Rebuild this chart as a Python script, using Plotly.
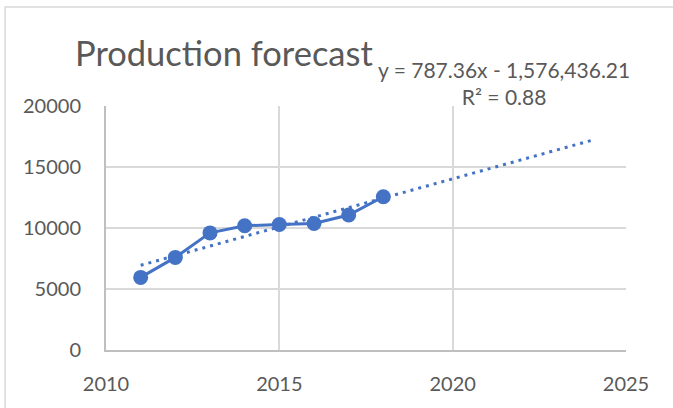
import plotly.graph_objects as go

years = [2011, 2012, 2013, 2014, 2015, 2016, 2017, 2018]
production = [5950, 7590, 9600, 10180, 10290, 10370, 11060, 12560]

trend_slope = 787.36
trend_intercept = -1576436.21
trend_years = [2011, 2024]
trend_values = [trend_slope * x + trend_intercept for x in trend_years]

title_text = "Production forecast"
eq_text = "y = 787.36x - 1,576,436.21<br>R² = 0.88"

x_ticks = [2010, 2015, 2020, 2025]
y_ticks = [0, 5000, 10000, 15000, 20000]

blue = "#4472C4"
txt = "#595959"
font_family = "Lato, Carlito, Calibri, sans-serif"

fig = go.Figure()
fig.add_trace(go.Scatter(
    x=trend_years, y=trend_values, mode="lines",
    line=dict(color=blue, width=3, dash="3px,5px"),
    showlegend=False, hoverinfo="skip"))
fig.add_trace(go.Scatter(
    x=years, y=production, mode="lines+markers",
    line=dict(color=blue, width=3),
    marker=dict(color=blue, size=15),
    showlegend=False))

fig.update_layout(
    width=673, height=408,
    margin=dict(l=106, r=47, t=106, b=58),
    paper_bgcolor="white", plot_bgcolor="white",
    font=dict(family=font_family, color=txt, size=20),
    xaxis=dict(range=[2010, 2025], tickvals=x_ticks, ticktext=[str(v) for v in x_ticks],
               showgrid=True, gridcolor="#d9d9d9", gridwidth=1.5,
               showline=True, linecolor="#bfbfbf", linewidth=2,
               zeroline=False, ticks="", ticklabelstandoff=15,
               tickfont=dict(size=20, color=txt)),
    yaxis=dict(range=[0, 20000], tickvals=y_ticks, ticktext=[str(v) for v in y_ticks],
               showgrid=True, gridcolor="#d9d9d9", gridwidth=1.5,
               showline=True, linecolor="#bfbfbf", linewidth=2,
               zeroline=False, ticks="", ticklabelstandoff=19,
               tickfont=dict(size=20, color=txt)),
    annotations=[
        dict(text=title_text, xref="paper", yref="paper", x=-0.064, y=1.218,
             xanchor="left", yanchor="middle", showarrow=False,
             font=dict(size=34.5, color=txt, family=font_family)),
        dict(text=eq_text, xref="paper", yref="paper", x=0.765, y=1.095,
             xanchor="center", yanchor="middle", align="center", showarrow=False,
             font=dict(size=21, color=txt, family=font_family)),
    ],
    shapes=[
        dict(type="rect", xref="paper", yref="paper", x0=-0.194, x1=1.2, y0=-0.4, y1=1.406,
             line=dict(color="#d9d9d9", width=1.5), fillcolor="rgba(0,0,0,0)", layer="below"),
    ],
)

fig.write_html("out.html")
